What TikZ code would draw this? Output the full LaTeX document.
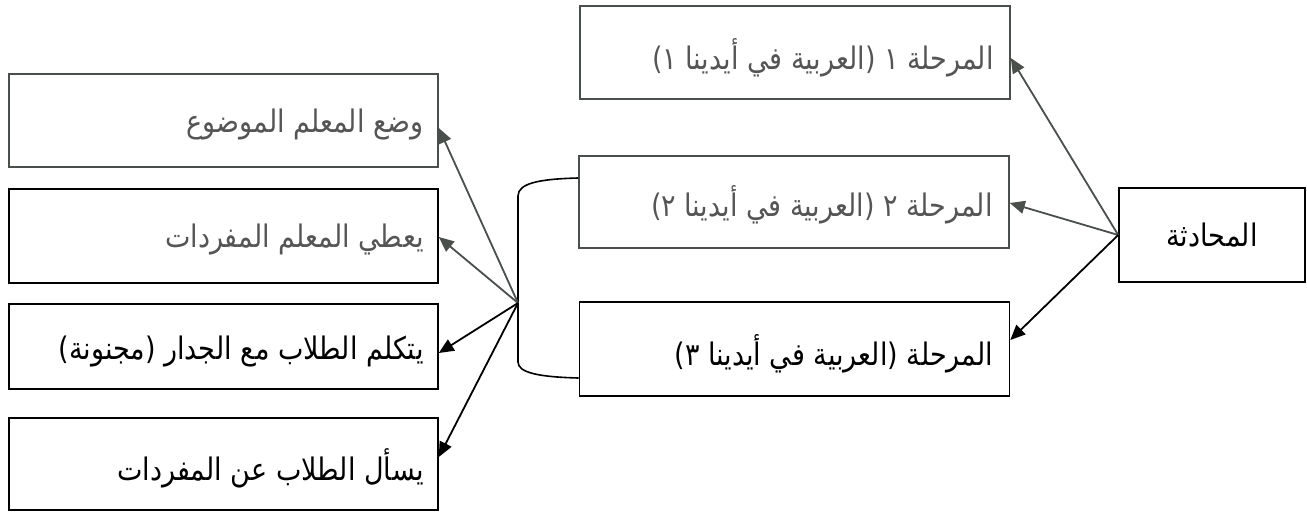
\documentclass[tikz,border=0pt]{standalone}
\usepackage{fontspec}
\newfontfamily\arabicfont[Script=Arabic]{DejaVu Sans}
\TeXXeTstate=1
\usetikzlibrary{arrows.meta}
\newcommand{\artxt}[1]{\scalebox{1}[1.15]{\arabicfont\fontsize{27}{32}\selectfont\beginR #1\endR}}
\definecolor{inkgray}{HTML}{555555}
\definecolor{linegray}{HTML}{4A4F4C}
\begin{document}
\begin{tikzpicture}[x=1pt,y=-1pt,
  box/.style={draw, line width=1.6pt, inner sep=0pt, minimum width=430pt},
  txt/.style={inner sep=0pt, anchor=east},
  arr/.style={line width=1.8pt, -{Triangle[length=15pt,width=13pt]}},
  link/.style={line width=1.6pt}]
\useasboundingbox (0,0) rectangle (1307,512);
% right column
\node[box, draw=linegray, minimum height=93pt] (R1) at (795,52.5) {};
\node[box, draw=linegray, minimum height=92pt] (R2) at (794,202) {};
\node[box, minimum height=94pt] (R3) at (794.5,349) {};
\node[box, minimum width=186pt, minimum height=94pt] (RC) at (1212,235) {};
% left column
\node[box, draw=linegray, minimum width=429pt, minimum height=93pt] (L1) at (223.5,120.5) {};
\node[box, minimum width=429pt, minimum height=94pt] (L2) at (223.5,236) {};
\node[box, minimum width=429pt, minimum height=85pt] (L3) at (223.5,346.5) {};
\node[box, minimum width=429pt, minimum height=92pt] (L4) at (223.5,464) {};
% texts
\node[txt, text=inkgray] (tR1) at ([xshift=-17pt,yshift=-5pt]R1.east) {\artxt{المرحلة ١ (العربية في أيدينا ١)}};
\node[txt, text=inkgray] (tR2) at ([xshift=-17pt,yshift=-3pt]R2.east) {\artxt{المرحلة ٢ (العربية في أيدينا ٢)}};
\node[txt] (tR3) at ([xshift=-17pt,yshift=-5pt]R3.east) {\artxt{المرحلة (العربية في أيدينا ٣)}};
\node[inner sep=0pt] (tRC) at (RC.center) {\artxt{المحادثة}};
\node[txt, text=inkgray] (tL1) at ([xshift=-15pt,yshift=-4pt]L1.east) {\artxt{وضع المعلم الموضوع}};
\node[txt, text=inkgray] (tL2) at ([xshift=-15pt,yshift=-3pt]L2.east) {\artxt{يعطي المعلم المفردات}};
\node[txt] (tL3) at ([xshift=-15pt,yshift=-5pt]L3.east) {\artxt{يتكلم الطلاب مع الجدار (مجنونة)}};
\node[txt] (tL4) at ([xshift=-15pt,yshift=-4pt]L4.east) {\artxt{يسأل الطلاب عن المفردات}};
% arrows from the right box
\draw[arr, draw=linegray, fill=linegray] (RC.west) -- ([yshift=-5.5pt]R1.east);
\draw[arr, draw=linegray, fill=linegray] (RC.west) -- ([yshift=-1pt]R2.east);
\draw[arr] (RC.west) -- ([yshift=9pt]R3.east);
% bracket and hub
\coordinate (hub) at (518,303);
\coordinate (bt) at ([yshift=24pt]R2.west);
\coordinate (bb) at ([yshift=-29pt]R3.west);
\draw[link] (bt) .. controls (540,179) and (518,183) .. (518,196) -- (518,362) .. controls (518,373) and (540,377) .. (bb);
% arrows to the left boxes
\draw[arr, draw=linegray, fill=linegray] (hub) -- ([yshift=-7.5pt]L1.east);
\draw[arr, draw=linegray, fill=linegray] (hub) -- ([yshift=-1pt]L2.east);
\draw[arr] (hub) -- ([yshift=-6.5pt]L3.east);
\draw[arr] (hub) -- ([yshift=7pt]L4.east);
\end{tikzpicture}
\end{document}
